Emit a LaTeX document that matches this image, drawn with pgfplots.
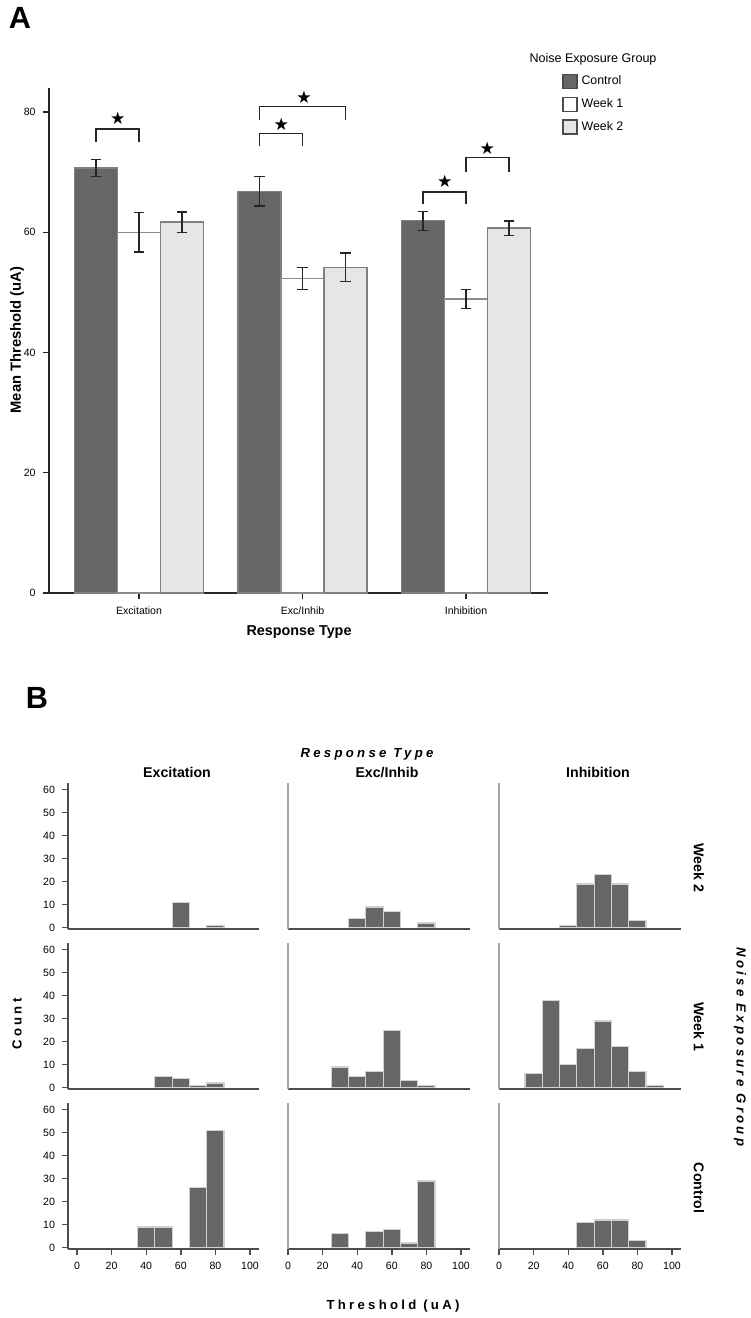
\documentclass[border=0pt]{standalone}
\usepackage{fontspec}
\setmainfont{Liberation Sans}
\newfontfamily\symfont{DejaVu Sans}
\newfontfamily\spaced[LetterSpace=25]{Liberation Sans}
\usepackage{pgfplots}
\pgfplotsset{compat=1.18}
\definecolor{ctrl}{HTML}{666666}
\definecolor{wktwo}{HTML}{E6E6E6}
\definecolor{axgray}{HTML}{4D4D4D}

\pgfplotsset{
  hist/.style={
    scale only axis, height=73bp,
    ymin=-0.6, ymax=62.9, xmax=105.2,
    axis x line*=bottom, axis y line*=left,
    axis line style={-},
    x axis line style={axgray, line width=0.8bp},
    y axis line style={black!35, line width=0.6bp},
    xtick=\empty, ytick=\empty,
    tick align=outside, major tick length=3bp,
    tick style={axgray, line width=0.7bp},
    tick label style={font=\fontsize{5.3}{6}\selectfont},
    /pgf/number format/assume math mode=true,
    clip=false, anchor=south west,
  },
  hcolone/.style={width=95.5bp, xmin=-5.2, ytick={0,10,...,60},
    y axis line style={axgray, line width=0.8bp}},
  hcolrest/.style={width=91bp, xmin=0},
  hbottom/.style={xtick={0,20,...,100}},
  hbar/.style={ybar, bar width=10, bar shift=0, fill=ctrl, draw=black!18, line width=0.6bp},
  meanbar/.style={forget plot, ybar, bar width=0.263, bar shift=0, line width=0.6bp,
    error bars/.cd, y dir=both, y explicit,
    error bar style={black!85, line width=0.7bp},
    error mark options={rotate=90, mark size=2.7bp, black!85, line width=0.7bp}},
}

\begin{document}
\begin{tikzpicture}[x=0.5bp, y=0.5bp]
\path[use as bounding box] (0,0) rectangle (750,-1318);

%% ---------------- Panel A ----------------
%% groups at x = 0, 1, 2; bars at -0.263, 0, +0.263 around each
\begin{axis}[
  at={(24.5bp,-296.5bp)}, anchor=south west,
  scale only axis, width=249.5bp, height=252.5bp,
  xmin=-0.5505, xmax=2.5015, ymin=0, ymax=84,
  axis x line*=bottom, axis y line*=left,
  axis line style={-, black!85, line width=0.8bp},
  xtick={0,1,2}, xticklabels={Excitation,Exc/Inhib,Inhibition},
  ytick={0,20,40,60,80},
  tick align=outside, major tick length=3.2bp,
  tick style={black!85, line width=0.7bp},
  tick label style={font=\fontsize{5.3}{6}\selectfont},
  /pgf/number format/assume math mode=true,
  clip=false,
  legend style={at={(1.028,1.034)}, anchor=north west, draw=none, fill=none,
    font=\fontsize{6.2}{7}\selectfont, inner sep=0pt, row sep=1.5bp},
  legend cell align=left,
]
  \addplot[fill=ctrl, draw=black!50, meanbar]
    coordinates {(-0.263,70.7) +- (0,1.4) (0.737,66.8) +- (0,2.45) (1.737,61.9) +- (0,1.6)};
  \addplot[fill=white, draw=black!45, meanbar]
    coordinates {(0,60.0) +- (0,3.3) (1,52.3) +- (0,1.85) (2,48.9) +- (0,1.6)};
  \addplot[fill=wktwo, draw=black!50, meanbar]
    coordinates {(0.263,61.7) +- (0,1.7) (1.263,54.2) +- (0,2.35) (2.263,60.7) +- (0,1.2)};

  \addlegendimage{legend image code/.code={\draw[fill=ctrl, draw=black!70, line width=0.6bp] (0bp,-3.5bp) rectangle (7bp,3.5bp);}}
  \addlegendentry{Control}
  \addlegendimage{legend image code/.code={\draw[fill=white, draw=black!70, line width=0.6bp] (0bp,-3.5bp) rectangle (7bp,3.5bp);}}
  \addlegendentry{Week 1}
  \addlegendimage{legend image code/.code={\draw[fill=wktwo, draw=black!70, line width=0.6bp] (0bp,-3.5bp) rectangle (7bp,3.5bp);}}
  \addlegendentry{Week 2}

  %% significance brackets
  \draw[black!85, line width=0.7bp] (axis cs:-0.263,75.1) |- (axis cs:0,77.2) -- (axis cs:0,75.1);
  \draw[black!85, line width=0.7bp] (axis cs:0.737,74.3) |- (axis cs:1,76.4) -- (axis cs:1,74.3);
  \draw[black!85, line width=0.7bp] (axis cs:0.737,78.7) |- (axis cs:1.263,80.9) -- (axis cs:1.263,78.7);
  \draw[black!85, line width=0.7bp] (axis cs:1.737,64.7) |- (axis cs:2,66.7) -- (axis cs:2,64.7);
  \draw[black!85, line width=0.7bp] (axis cs:2,70.1) |- (axis cs:2.263,72.4) -- (axis cs:2.263,70.1);
  \node[font=\symfont\fontsize{8.6}{9}\selectfont, inner sep=0pt] at (axis cs:-0.13,79.0) {★};
  \node[font=\symfont\fontsize{8.6}{9}\selectfont, inner sep=0pt] at (axis cs:0.87,78.0) {★};
  \node[font=\symfont\fontsize{8.6}{9}\selectfont, inner sep=0pt] at (axis cs:1.01,82.4) {★};
  \node[font=\symfont\fontsize{8.6}{9}\selectfont, inner sep=0pt] at (axis cs:1.87,68.4) {★};
  \node[font=\symfont\fontsize{8.6}{9}\selectfont, inner sep=0pt] at (axis cs:2.13,73.9) {★};
\end{axis}

\node[font=\bfseries\fontsize{15.4}{16}\selectfont] at (20,-18) {A};
\node[font=\bfseries\fontsize{7.4}{8}\selectfont, rotate=90] at (17,-340) {Mean Threshold (uA)};
\node[font=\bfseries\fontsize{7.2}{8}\selectfont] at (299,-632) {Response Type};
\node[font=\fontsize{6.3}{7}\selectfont] at (593,-59) {Noise Exposure Group};

%% ---------------- Panel B ----------------
%% row Week 2
\begin{axis}[hist, hcolone, at={(34bp,-464.5bp)}]
  \addplot[hbar] coordinates {(60,11) (80,1)};
\end{axis}
\begin{axis}[hist, hcolrest, at={(144bp,-464.5bp)}]
  \addplot[hbar] coordinates {(40,4) (50,9) (60,7) (80,2)};
\end{axis}
\begin{axis}[hist, hcolrest, at={(249.5bp,-464.5bp)}]
  \addplot[hbar] coordinates {(40,1) (50,19) (60,23) (70,19) (80,3)};
\end{axis}
%% row Week 1
\begin{axis}[hist, hcolone, at={(34bp,-544.5bp)}]
  \addplot[hbar] coordinates {(50,5) (60,4) (70,1) (80,2)};
\end{axis}
\begin{axis}[hist, hcolrest, at={(144bp,-544.5bp)}]
  \addplot[hbar] coordinates {(30,9) (40,5) (50,7) (60,25) (70,3) (80,1)};
\end{axis}
\begin{axis}[hist, hcolrest, at={(249.5bp,-544.5bp)}]
  \addplot[hbar] coordinates {(20,6) (30,38) (40,10) (50,17) (60,29) (70,18) (80,7) (90,1)};
\end{axis}
%% row Control
\begin{axis}[hist, hcolone, hbottom, at={(34bp,-624.5bp)}]
  \addplot[hbar] coordinates {(40,9) (50,9) (70,26) (80,51)};
\end{axis}
\begin{axis}[hist, hcolrest, hbottom, at={(144bp,-624.5bp)}]
  \addplot[hbar] coordinates {(30,6) (50,7) (60,8) (70,2) (80,29)};
\end{axis}
\begin{axis}[hist, hcolrest, hbottom, at={(249.5bp,-624.5bp)}]
  \addplot[hbar] coordinates {(50,11) (60,12) (70,12) (80,3)};
\end{axis}

\node[font=\bfseries\fontsize{15.4}{16}\selectfont] at (37,-698) {B};
\node[font=\spaced\bfseries\itshape\fontsize{6.6}{7}\selectfont, anchor=base] at (367,-757) {Response Type};
\node[font=\bfseries\fontsize{7.1}{8}\selectfont, anchor=base] at (177,-777) {Excitation};
\node[font=\bfseries\fontsize{7.1}{8}\selectfont, anchor=base] at (387,-777) {Exc/Inhib};
\node[font=\bfseries\fontsize{7.1}{8}\selectfont, anchor=base] at (598,-777) {Inhibition};
\node[font=\bfseries\fontsize{7.1}{8}\selectfont, rotate=-90] at (699,-868) {Week 2};
\node[font=\bfseries\fontsize{7.1}{8}\selectfont, rotate=-90] at (699,-1027) {Week 1};
\node[font=\bfseries\fontsize{7.1}{8}\selectfont, rotate=-90] at (699,-1188) {Control};
\node[font=\spaced\bfseries\itshape\fontsize{6.6}{7}\selectfont, rotate=-90] at (740,-1047) {Noise Exposure Group};
\node[font=\spaced\bfseries\fontsize{6.6}{7}\selectfont, rotate=90] at (17,-1024) {Count};
\node[font=\spaced\bfseries\fontsize{6.6}{7}\selectfont, anchor=base] at (393,-1309) {Threshold (uA)};
\end{tikzpicture}
\end{document}
